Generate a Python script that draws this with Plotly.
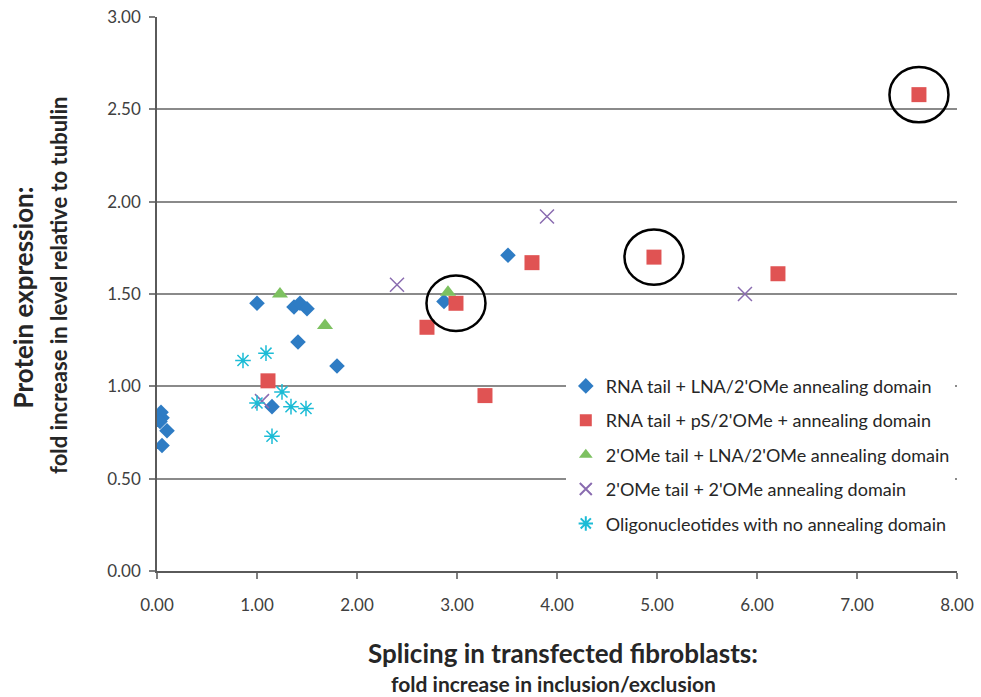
import plotly.graph_objects as go

# ---- data ----
rna_lna_x = [1.00, 1.37, 1.43, 1.50, 1.41, 1.80, 1.15, 0.04, 0.05, 0.03, 0.10, 0.05, 2.87, 3.51]
rna_lna_y = [1.45, 1.43, 1.45, 1.42, 1.24, 1.11, 0.89, 0.86, 0.83, 0.81, 0.76, 0.68, 1.46, 1.71]

rna_ps_x = [7.62, 4.97, 6.21, 3.75, 2.99, 2.70, 3.28, 1.11]
rna_ps_y = [2.58, 1.70, 1.61, 1.67, 1.45, 1.32, 0.95, 1.03]

ome_lna_x = [1.23, 1.68, 2.91]
ome_lna_y = [1.50, 1.33, 1.51]

ome_ome_x = [2.40, 3.90, 5.88, 1.05]
ome_ome_y = [1.55, 1.92, 1.50, 0.92]

oligo_x = [0.86, 1.09, 1.25, 1.00, 1.34, 1.49, 1.15]
oligo_y = [1.14, 1.18, 0.97, 0.91, 0.89, 0.88, 0.73]

circled_idx = [4, 1, 0]  # indexes into the pS/2'OMe series

x_ticks = [0, 1, 2, 3, 4, 5, 6, 7, 8]
y_ticks = [0, 0.5, 1.0, 1.5, 2.0, 2.5, 3.0]

names = [
    "RNA tail + LNA/2'OMe annealing domain",
    "RNA tail + pS/2'OMe + annealing domain",
    "2'OMe tail + LNA/2'OMe annealing domain",
    "2'OMe tail + 2'OMe annealing domain",
    "Oligonucleotides with no annealing domain",
]

FONT = "Lato"
fig = go.Figure()

fig.add_trace(go.Scatter(x=rna_lna_x, y=rna_lna_y, mode="markers", name=names[0], legendgroup="a",
                         marker=dict(symbol="diamond", size=12, color="#2E7CC4")))
fig.add_trace(go.Scatter(x=rna_ps_x, y=rna_ps_y, mode="markers", name=names[1], legendgroup="b",
                         marker=dict(symbol="square", size=15, color="#E05353")))
fig.add_trace(go.Scatter(x=ome_lna_x, y=ome_lna_y, mode="markers", name=names[2], legendgroup="c",
                         marker=dict(symbol="triangle-up", size=14, color="#7DC160")))
fig.add_trace(go.Scatter(x=ome_ome_x, y=ome_ome_y, mode="markers", name=names[3], legendgroup="d",
                         marker=dict(symbol="x-thin-open", size=14, color="#8A6CB0",
                                     line=dict(width=1.5, color="#8A6CB0"))))
fig.add_trace(go.Scatter(x=oligo_x, y=oligo_y, mode="markers", name=names[4], legendgroup="e",
                         marker=dict(symbol="asterisk-open", size=13, color="#1CBCD6",
                                     line=dict(width=1.5, color="#1CBCD6"))))

# circles around highlighted points
rx, ry = 0.295, 0.15
for i in circled_idx:
    cx, cy = rna_ps_x[i], rna_ps_y[i]
    fig.add_shape(type="circle", xref="x", yref="y",
                  x0=cx - rx, x1=cx + rx, y0=cy - ry, y1=cy + ry,
                  line=dict(color="black", width=2.5))

fig.update_xaxes(range=[0, 8.0005], tickvals=x_ticks, ticktext=[f"{v:.2f}" for v in x_ticks],
                 showgrid=False, zeroline=False, showline=True, linecolor="#5A5A5A", linewidth=1.5,
                 ticks="outside", ticklen=6, tickcolor="#7F7F7F", tickwidth=1.5,
                 ticklabelstandoff=12, ticklabeloverflow="allow", automargin=False,
                 tickfont=dict(family=FONT, size=17, color="#404040"))
fig.update_yaxes(range=[0, 3.0005], tickvals=y_ticks, ticktext=[f"{v:.2f}" for v in y_ticks],
                 showgrid=True, gridcolor="#8A8A8A", gridwidth=1.5, zeroline=False,
                 showline=True, linecolor="#5A5A5A", linewidth=1.5,
                 ticks="outside", ticklen=6, tickcolor="#7F7F7F", tickwidth=1.5,
                 ticklabelstandoff=5, ticklabeloverflow="allow", automargin=False,
                 tickfont=dict(family=FONT, size=17, color="#404040"))

# axis titles
fig.add_annotation(text="<b>Splicing in transfected fibroblasts:</b>", xref="paper", yref="paper",
                   x=0.507, y=-0.148, xanchor="center", yanchor="middle", showarrow=False,
                   font=dict(family=FONT, size=26, color="#262626"))
fig.add_annotation(text="<b>fold increase in inclusion/exclusion</b>", xref="paper", yref="paper",
                   x=0.496, y=-0.2022, xanchor="center", yanchor="middle", showarrow=False,
                   font=dict(family=FONT, size=21, color="#262626"))
fig.add_annotation(text="<b>Protein expression:</b>", xref="paper", yref="paper",
                   x=-0.168, y=0.493, xanchor="center", yanchor="middle", showarrow=False, textangle=-90,
                   font=dict(family=FONT, size=26, color="#262626"))
fig.add_annotation(text="<b>fold increase in level relative to tubulin</b>", xref="paper", yref="paper",
                   x=-0.124, y=0.516, xanchor="center", yanchor="middle", showarrow=False, textangle=-90,
                   font=dict(family=FONT, size=22, color="#262626"))

fig.update_layout(
    width=981, height=697,
    margin=dict(l=157, r=24, t=17, b=126),
    paper_bgcolor="white", plot_bgcolor="white",
    showlegend=True,
    legend=dict(x=0.511, y=0.367, xanchor="left", yanchor="top", bgcolor="white",
                font=dict(family=FONT, size=18, color="#262626"), tracegroupgap=8,
                itemsizing="constant"),
)

# remove the default page margin so the figure fills the window exactly
fig.write_html("out.html",
               config={"displayModeBar": False},
               post_script="document.body.style.margin='0';document.body.style.overflow='hidden';")
